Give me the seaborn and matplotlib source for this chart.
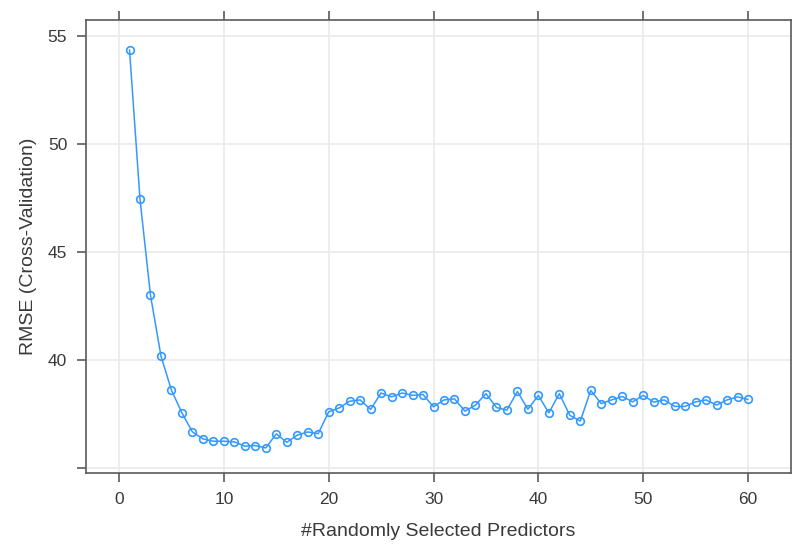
import numpy as np
import pandas as pd
import matplotlib
matplotlib.use("Agg")
import matplotlib.pyplot as plt
import seaborn as sns

# ── Data ───────────────────────────────────────────────
predictors = list(range(1, 61))
rmse = [54.35, 47.44, 43.00, 40.19, 38.61, 37.56, 36.68, 36.36, 36.25, 36.25,
        36.22, 36.02, 36.05, 35.94, 36.59, 36.20, 36.53, 36.68, 36.60, 37.61,
        37.79, 38.10, 38.16, 37.72, 38.48, 38.30, 38.48, 38.37, 38.41, 37.84,
        38.16, 38.21, 37.64, 37.92, 38.45, 37.81, 37.69, 38.55, 37.73, 38.37,
        37.56, 38.45, 37.45, 37.18, 38.60, 37.99, 38.16, 38.32, 38.07, 38.37,
        38.06, 38.16, 37.86, 37.86, 38.07, 38.16, 37.92, 38.16, 38.30, 38.18]
x_ticks = [0, 10, 20, 30, 40, 50, 60]
y_ticks = [35, 40, 45, 50, 55]
y_labels = ["", "40", "45", "50", "55"]

df = pd.DataFrame({"predictors": predictors, "rmse": rmse})

# ── Style ──────────────────────────────────────────────
sns.set_theme(style="white")
plt.rcParams["font.family"] = ["Liberation Sans", "DejaVu Sans"]

line_col = "#3399ff"
frame_col = "#5a5a5a"
text_col = "#3a3a3a"

fig = plt.figure(figsize=(7.92, 5.45), dpi=100)
ax = fig.add_axes([0.1086, 0.1321, 0.8901, 0.8312])

sns.lineplot(data=df, x="predictors", y="rmse", ax=ax, color=line_col,
             linewidth=1.1, marker="o", markersize=5.5,
             markerfacecolor="none", markeredgecolor=line_col,
             markeredgewidth=1.2)

ax.set_xlim(-3.15, 64.1)
ax.set_ylim(34.78, 55.73)
ax.set_xticks(x_ticks)
ax.set_yticks(y_ticks)
ax.set_yticklabels(y_labels)

# light grid like lattice
ax.grid(True, color="#e8e8e8", linewidth=1.1)
ax.set_axisbelow(True)

for side in ["left", "right", "top", "bottom"]:
    ax.spines[side].set_visible(True)
    ax.spines[side].set_color(frame_col)
    ax.spines[side].set_linewidth(1.2)

ax.tick_params(axis="both", direction="out", length=6.5, width=1.2,
               color=frame_col, labelcolor=text_col, labelsize=12.5, pad=7)
ax.tick_params(axis="x", top=True, bottom=True, labeltop=False)
ax.tick_params(axis="y", left=True, right=False)

ax.set_xlabel("#Randomly Selected Predictors", fontsize=14, color=text_col,
              labelpad=12)
ax.set_ylabel("RMSE (Cross-Validation)", fontsize=14, color=text_col,
              labelpad=8)

fig.savefig("out.png", dpi=100)
